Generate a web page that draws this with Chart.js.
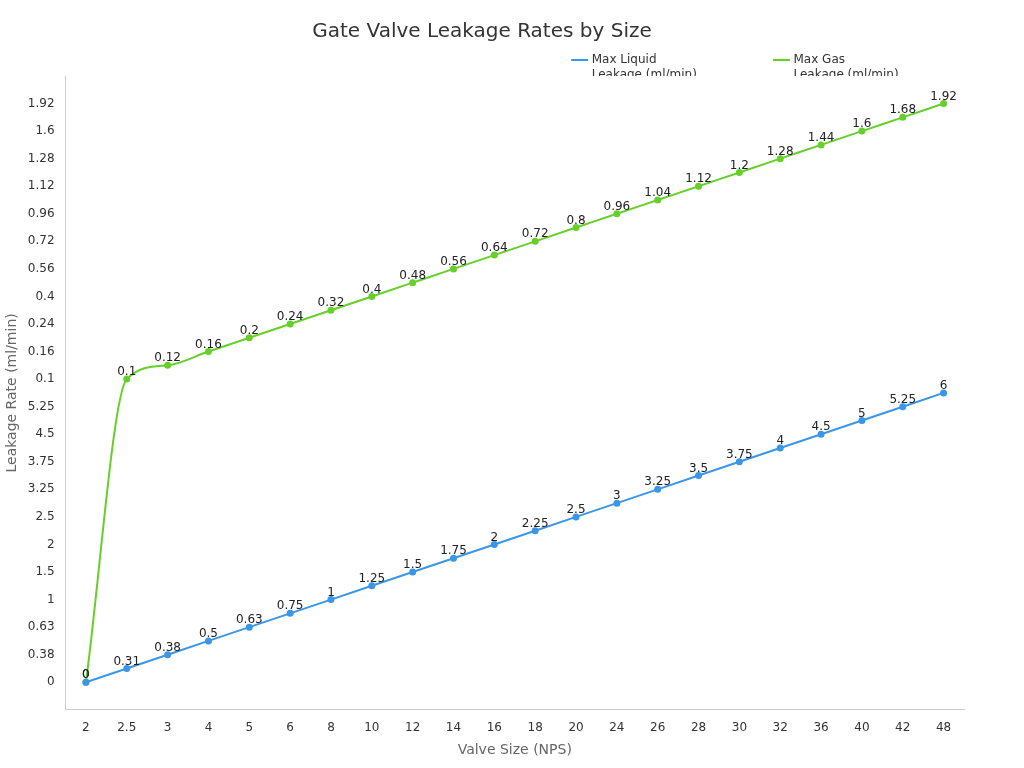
<!DOCTYPE html>
<html>
<head>
<meta charset="utf-8">
<script src="https://cdn.jsdelivr.net/npm/chart.js@4"></script>
<style>
  body { margin: 0; background: #fff; }
</style>
</head>
<body>
<canvas id="myChart" width="1024" height="768"></canvas>
<script>
const sizes = ['2', '2.5', '3', '4', '5', '6', '8', '10', '12', '14', '16', '18', '20', '24', '26', '28', '30', '32', '36', '40', '42', '48'];
const liquid = ['0', '0.31', '0.38', '0.5', '0.63', '0.75', '1', '1.25', '1.5', '1.75', '2', '2.25', '2.5', '3', '3.25', '3.5', '3.75', '4', '4.5', '5', '5.25', '6'];
const gas = ['0', '0.1', '0.12', '0.16', '0.2', '0.24', '0.32', '0.4', '0.48', '0.56', '0.64', '0.72', '0.8', '0.96', '1.04', '1.12', '1.2', '1.28', '1.44', '1.6', '1.68', '1.92'];

// y axis is a category axis: liquid values, then the gas values not already in it
const yCats = liquid.concat(gas.filter(v => !liquid.includes(v)));
const pad = 2;
const yLabels = [' ', '  '].concat(yCats, ['   ', '    ']);

const pointLabels = {
    id: 'pointLabels',
    afterDatasetsDraw(chart) {
        const c = chart.ctx;
        c.save();
        c.font = '12px "DejaVu Sans"';
        c.fillStyle = '#222';
        c.textAlign = 'center';
        chart.data.datasets.forEach((ds, i) => {
            chart.getDatasetMeta(i).data.forEach((pt, j) => {
                c.fillText(ds.data[j], pt.x, pt.y - 7);
            });
        });
        c.restore();
    }
};

new Chart(document.getElementById('myChart'), {
    type: 'line',
    data: {
        labels: sizes,
        datasets: [{
            label: ['Max Liquid', 'Leakage (ml/min)'],
            data: liquid,
            borderColor: '#3a96e8',
            backgroundColor: '#3a96e8',
            borderWidth: 2,
            pointRadius: 2.5,
            tension: 0
        }, {
            label: ['Max Gas', 'Leakage (ml/min)'],
            data: gas,
            borderColor: '#66d02a',
            backgroundColor: '#66d02a',
            borderWidth: 2,
            pointRadius: 2.5,
            cubicInterpolationMode: 'monotone'
        }]
    },
    options: {
        responsive: false,
        animation: false,
        layout: { padding: { left: 0, right: 60, top: 10, bottom: 5 } },
        plugins: {
            title: {
                display: true,
                text: 'Gate Valve Leakage Rates by Size',
                font: { size: 20, family: 'DejaVu Sans', weight: 'normal' },
                color: '#333',
                padding: { top: 10, bottom: 0 }
            },
            legend: {
                align: 'end',
                labels: {
                    usePointStyle: true,
                    pointStyle: 'line',
                    boxWidth: 30,
                    font: { size: 12, family: 'DejaVu Sans' },
                    color: '#333'
                }
            }
        },
        scales: {
            x: {
                offset: true,
                grid: { display: false },
                border: { color: '#ccc' },
                ticks: { font: { size: 12, family: 'DejaVu Sans' }, color: '#333' },
                title: { display: true, text: 'Valve Size (NPS)', color: '#666', font: { size: 14, family: 'DejaVu Sans' } }
            },
            y: {
                type: 'category',
                labels: yLabels,
                reverse: true,
                grid: { display: false },
                border: { color: '#ccc' },
                ticks: {
                    autoSkip: false,
                    font: { size: 12, family: 'DejaVu Sans' },
                    color: '#333',
                    callback: function (v, i) {
                        const k = i - pad;
                        return (k >= 0 && k < yCats.length && k % 2 === 0) ? yCats[k] : '';
                    }
                },
                title: { display: true, text: 'Leakage Rate (ml/min)', color: '#666', font: { size: 14, family: 'DejaVu Sans' } }
            }
        }
    },
    plugins: [pointLabels]
});
</script>
</body>
</html>
